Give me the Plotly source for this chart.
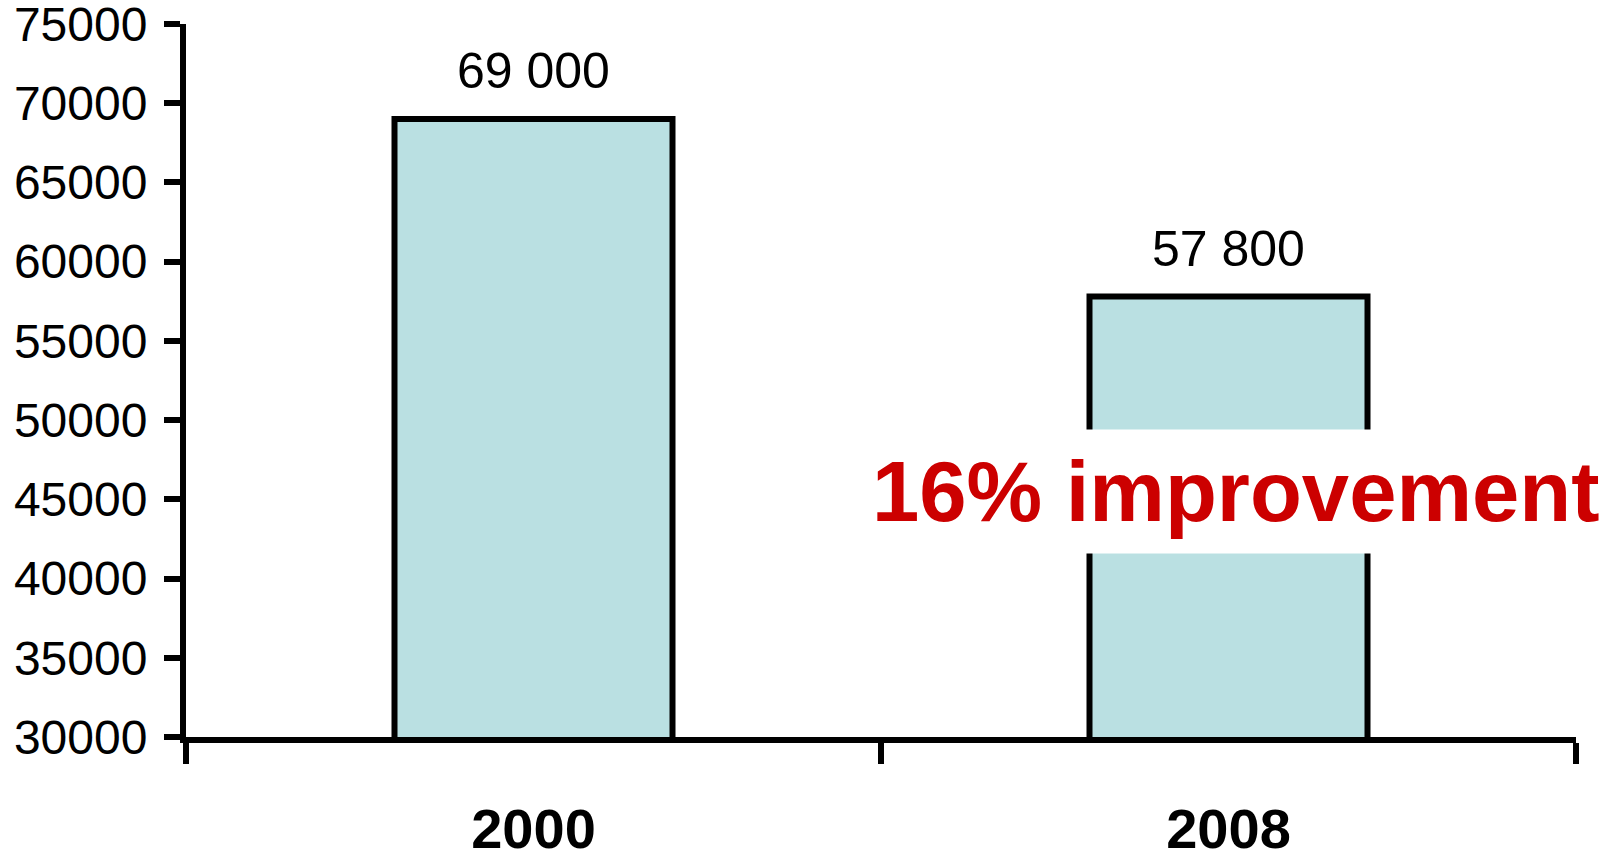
import plotly.graph_objects as go

# Chart data
years = ["2000", "2008"]
values = [69000, 57800]
y_ticks = [30000, 35000, 40000, 45000, 50000, 55000, 60000, 65000, 70000, 75000]
callout = "16% improvement"

BAR_FILL = "#BAE0E2"
RED = "#CC0000"
FONT = "Liberation Sans, Arial, sans-serif"
LINE_W = 6


def spaced(v):
    return f"{v:,}".replace(",", " ")


fig = go.Figure(
    go.Bar(
        x=years,
        y=values,
        width=0.4,
        marker=dict(color=BAR_FILL, line=dict(color="black", width=LINE_W)),
        hoverinfo="skip",
    )
)

# Value labels above each bar (category index positions on the x axis)
for i, v in enumerate(values):
    fig.add_annotation(
        x=i, y=v, text=spaced(v), showarrow=False,
        yanchor="bottom", yshift=18,
        font=dict(family=FONT, size=50, color="black"),
    )

# Highlighted callout with a white backing box
fig.add_annotation(
    xref="paper", yref="paper", x=0.755, y=0.345,
    text=f"<b>{callout}</b>", showarrow=False,
    xanchor="center", yanchor="middle",
    bgcolor="white", borderpad=14,
    font=dict(family=FONT, size=85, color=RED),
)

fig.update_layout(
    width=1617, height=854,
    margin=dict(l=186, r=41, t=24, b=117),
    paper_bgcolor="white", plot_bgcolor="white",
    showlegend=False,
)

fig.update_xaxes(
    type="category", range=[-0.5, len(years) - 0.5],
    automargin=False,
    showline=True, linecolor="black", linewidth=LINE_W,
    ticks="outside", tickson="boundaries", ticklen=21, tickwidth=LINE_W, tickcolor="black",
    tickfont=dict(family=FONT, size=56, color="black", weight="bold"),
    tickangle=0, ticklabelstandoff=38,
    showgrid=False, zeroline=False,
)

fig.update_yaxes(
    range=[30000, 75000], automargin=False,
    tickvals=y_ticks, tickformat="d",
    showline=True, linecolor="black", linewidth=LINE_W,
    ticks="outside", ticklen=16, tickwidth=LINE_W, tickcolor="black",
    tickfont=dict(family=FONT, size=48, color="black"),
    ticklabelstandoff=7,
    ticklabeloverflow="allow",
    showgrid=False, zeroline=False,
)

fig.write_html("out.html")
